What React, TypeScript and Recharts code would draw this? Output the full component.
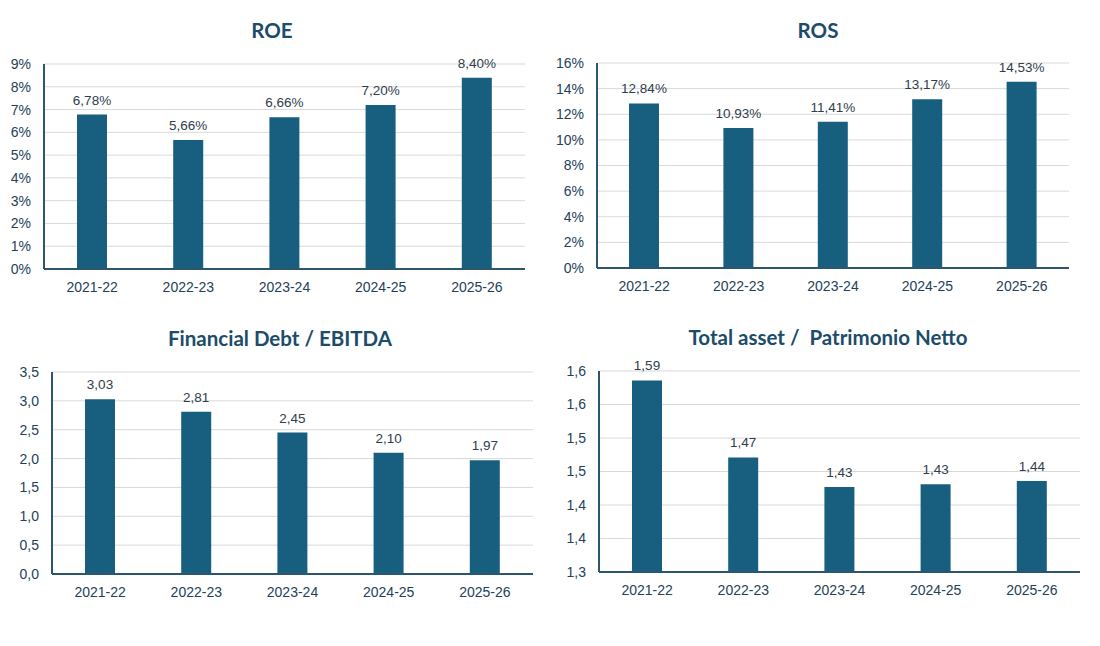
import React from 'react'
import { BarChart, Bar, XAxis, YAxis, CartesianGrid, LabelList } from 'recharts'

const CATEGORIES = ['2021-22', '2022-23', '2023-24', '2024-25', '2025-26']

// values per fiscal year
const ROE_VALUES = [6.78, 5.66, 6.66, 7.2, 8.4]
const ROS_VALUES = [12.84, 10.93, 11.41, 13.17, 14.53]
const DEBT_EBITDA_VALUES = [3.03, 2.81, 2.45, 2.1, 1.97]
const ASSET_EQUITY_VALUES = [1.586, 1.471, 1.427, 1.431, 1.436]

const ROE_TICKS = [0, 1, 2, 3, 4, 5, 6, 7, 8, 9]
const ROS_TICKS = [0, 2, 4, 6, 8, 10, 12, 14, 16]
const DEBT_EBITDA_TICKS = [0, 0.5, 1, 1.5, 2, 2.5, 3, 3.5]
const ASSET_EQUITY_TICKS = [1.3, 1.35, 1.4, 1.45, 1.5, 1.55, 1.6]

const BAR = '#185E7F'
const AXIS = '#2C566E'
const GRID = '#D9D9D9'
const TITLE = '#1B4C69'
const TICK_TEXT = '#24415A'
const LABEL_TEXT = '#2F3D4C'
const FONT = '"Liberation Sans", Arial, sans-serif'

const comma = (s: string) => s.replace('.', ',')
// half-up rounding like the spreadsheet does
const round1 = (v: number) => comma((Math.round(v * 10) / 10).toFixed(1))

const pct0 = (v: number) => `${v}%`
const pct2 = (v: number) => `${comma(v.toFixed(2))}%`
const dec2 = (v: number) => comma(v.toFixed(2))

const Y_W = 45
const M_TOP = 26
const X_H = 36

type PanelProps = {
  title: string
  values: number[]
  ticks: number[]
  tickFmt: (v: number) => string
  labelFmt: (v: number) => string
  plot: { x: number; y: number; w: number; h: number }
  titleX: number
  titleY: number
}

function Panel({ title, values, ticks, tickFmt, labelFmt, plot, titleX, titleY }: PanelProps) {
  const data = CATEGORIES.map((c, i) => ({ name: c, value: values[i] }))
  return (
    <>
      <div style={{
        position: 'absolute',
        left: titleX - 250,
        top: titleY - 14,
        width: 500,
        textAlign: 'center',
        fontFamily: 'Lato, sans-serif',
        fontWeight: 700,
        fontSize: 20.5,
        lineHeight: '28px',
        color: TITLE,
        whiteSpace: 'pre',
      }}>
        {title}
      </div>
      <div style={{ position: 'absolute', left: plot.x - Y_W, top: plot.y - M_TOP }}>
        <BarChart
          width={plot.w + Y_W}
          height={plot.h + M_TOP + X_H}
          data={data}
          margin={{ top: M_TOP, right: 0, left: 0, bottom: 0 }}
        >
          <CartesianGrid vertical={false} stroke={GRID} strokeWidth={1} />
          <XAxis
            dataKey="name"
            height={X_H}
            tickLine={false}
            tickSize={0}
            tickMargin={13}
            axisLine={{ stroke: AXIS, strokeWidth: 2 }}
            tick={{ fontFamily: FONT, fontSize: 14, fill: TICK_TEXT }}
          />
          <YAxis
            width={Y_W}
            domain={[ticks[0], ticks[ticks.length - 1]]}
            ticks={ticks}
            interval={0}
            allowDataOverflow
            tickLine={false}
            tickSize={0}
            tickMargin={13}
            tickFormatter={tickFmt}
            axisLine={{ stroke: AXIS, strokeWidth: 2 }}
            tick={{ fontFamily: FONT, fontSize: 14, fill: TICK_TEXT }}
          />
          <Bar dataKey="value" fill={BAR} barSize={30} isAnimationActive={false}>
            <LabelList
              dataKey="value"
              position="top"
              offset={10}
              formatter={(v: any) => labelFmt(Number(v))}
              style={{ fontFamily: FONT, fontSize: 13.5, fill: LABEL_TEXT }}
            />
          </Bar>
        </BarChart>
      </div>
    </>
  )
}

export default function App() {
  return (
    <div style={{
      position: 'absolute',
      left: 0,
      top: 0,
      width: 1100,
      height: 646,
      background: '#fff',
      overflow: 'hidden',
    }}>
      <Panel
        title="ROE"
        values={ROE_VALUES}
        ticks={ROE_TICKS}
        tickFmt={pct0}
        labelFmt={pct2}
        plot={{ x: 44, y: 64, w: 481, h: 205 }}
        titleX={272}
        titleY={30}
      />
      <Panel
        title="ROS"
        values={ROS_VALUES}
        ticks={ROS_TICKS}
        tickFmt={pct0}
        labelFmt={pct2}
        plot={{ x: 597, y: 63, w: 472, h: 205 }}
        titleX={818}
        titleY={30}
      />
      <Panel
        title="Financial Debt / EBITDA"
        values={DEBT_EBITDA_VALUES}
        ticks={DEBT_EBITDA_TICKS}
        tickFmt={round1}
        labelFmt={dec2}
        plot={{ x: 52, y: 372, w: 481, h: 202 }}
        titleX={280}
        titleY={338}
      />
      <Panel
        title="Total asset /  Patrimonio Netto"
        values={ASSET_EQUITY_VALUES}
        ticks={ASSET_EQUITY_TICKS}
        tickFmt={round1}
        labelFmt={dec2}
        plot={{ x: 599, y: 371, w: 481, h: 201 }}
        titleX={828}
        titleY={337}
      />
    </div>
  )
}
